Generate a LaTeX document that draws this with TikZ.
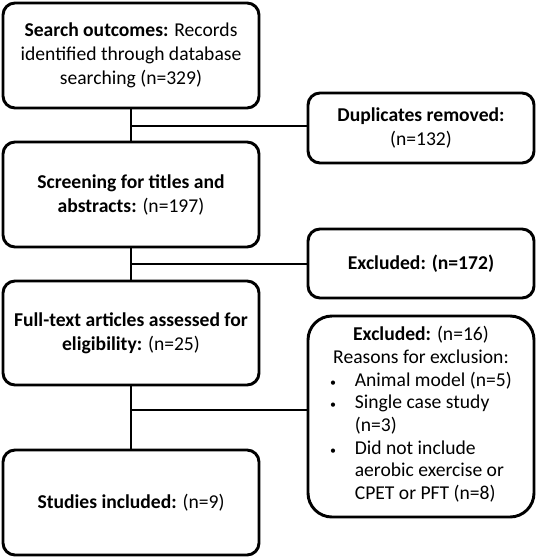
\documentclass[tikz,border=0pt]{standalone}
\usepackage{fontspec}
\setmainfont{Carlito}
\usetikzlibrary{positioning}
\newcommand{\boxfont}{\fontsize{14.7pt}{18pt}\selectfont}
\newcommand{\listfont}{\fontsize{14.7pt}{17pt}\selectfont}

\begin{document}
\begin{tikzpicture}[x=0.75pt, y=-0.75pt,
    mainbox/.style={draw, rounded corners=9pt, line width=2.2pt, align=center, font=\boxfont, minimum width=192pt, minimum height=78.75pt, inner sep=0pt},
    sidebox/.style={draw, rounded corners=9pt, line width=2.2pt, align=center, font=\boxfont, minimum width=169.5pt, inner sep=0pt},
    link/.style={line width=1.8pt}]
    \useasboundingbox (0,0) rectangle (538,559);

    % Main boxes (left column)
    \node[mainbox] (search) at (131,55.5) {\textbf{Search outcomes:} Records\\identified through database\\searching (n=329)};
    \node[mainbox] (screen) at (131,194.5) {\textbf{Screening for titles and}\\\textbf{abstracts:} (n=197)};
    \node[mainbox, minimum height=78pt] (fulltext) at (131,333) {\textbf{Full-text articles assessed for}\\\textbf{eligibility:} (n=25)};
    \node[mainbox] (included) at (131,502.5) {\textbf{Studies included:} (n=9)};

    % Side boxes (right column)
    \node[sidebox, minimum height=52.5pt] (dup) at (421,128) {\textbf{Duplicates removed:}\\(n=132)};
    \node[sidebox, minimum height=51.75pt] (excla) at (421,263.5) {\textbf{Excluded: (n=172)}};
    \node[sidebox, font=\listfont, minimum height=150.75pt, rounded corners=18pt] (exclb) at (421,416.5) {\textbf{Excluded:} (n=16)\\Reasons for exclusion:\\
        \begin{tabular}[t]{@{}l@{\hspace{14pt}}l@{}}
        {\small\textbullet} & Animal model (n=5)\\
        {\small\textbullet} & Single case study\\
                    & (n=3)\\
        {\small\textbullet} & Did not include\\
                    & aerobic exercise or\\
                    & CPET or PFT (n=8)
        \end{tabular}};

    % Vertical flow
    \draw[link] (search) -- (screen);
    \draw[link] (screen) -- (fulltext);
    \draw[link] (fulltext) -- (included);

    % Branches to the side boxes
    \coordinate (ja) at (131,126);
    \coordinate (jb) at (131,264);
    \coordinate (jc) at (131,410);
    \draw[link] (ja) -- (ja -| dup.west);
    \draw[link] (jb) -- (jb -| excla.west);
    \draw[link] (jc) -- (jc -| exclb.west);
\end{tikzpicture}
\end{document}
